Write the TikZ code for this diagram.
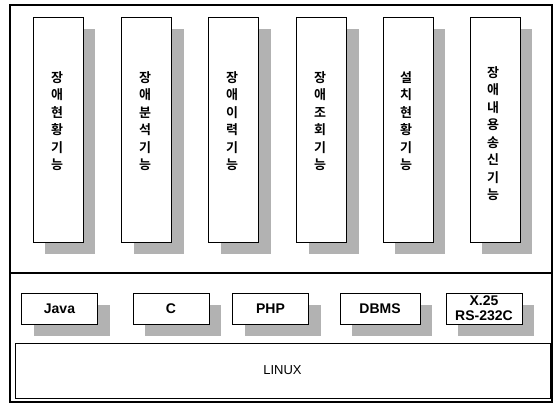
\documentclass[tikz,border=0pt]{standalone}
\usepackage{fontspec}
\setmainfont{Liberation Sans}
\newfontfamily\kr{Noto Sans CJK KR}[BoldFont={Noto Sans CJK KR Bold}]
\usetikzlibrary{shadows}

% stack characters vertically, one per line
\newcommand{\vstack}[1]{\kr\bfseries\fontsize{13}{17.5}\selectfont #1}

\begin{document}
\begin{tikzpicture}[x=1pt,y=-1pt,
  shade box/.style={draw=black, line width=0.9pt, fill=white, inner sep=0pt,
    drop shadow={shadow xshift=12pt, shadow yshift=-12pt, fill=black!30, opacity=1}},
  funcbox/.style={shade box, minimum width=50pt, minimum height=225pt},
  langbox/.style={shade box, minimum width=76pt, minimum height=31pt,
    font=\fontsize{14}{15}\selectfont\bfseries, align=center},
  functext/.style={anchor=north, align=center, inner sep=0pt, font=\vstack{}},
  frame/.style={draw=black, line width=2pt},
]
\useasboundingbox (0,0) rectangle (554,405);

% outer frame and the divider between application and platform layers
\draw[frame] (9.5,4.5) rectangle (551.5,402);
\coordinate (divL) at (9.5,273);
\coordinate (divR) at (551.5,273);
\draw[line width=1.2pt] (divL) -- (divR);

% application function modules
\node[funcbox] (f1) at (58,129.5) {};
\node[funcbox] (f2) at (146.5,129.5) {};
\node[funcbox] (f3) at (233.5,129.5) {};
\node[funcbox] (f4) at (321.5,129.5) {};
\node[funcbox] (f5) at (408,129.5) {};
\node[funcbox] (f6) at (495,129.5) {};

\node[functext] (t1) at (57,71) {장\\애\\현\\황\\기\\능};
\node[functext] (t2) at (145,71) {장\\애\\분\\석\\기\\능};
\node[functext] (t3) at (232,71) {장\\애\\이\\력\\기\\능};
\node[functext] (t4) at (320,71) {장\\애\\조\\회\\기\\능};
\node[functext] (t5) at (406,71) {설\\치\\현\\황\\기\\능};
\node[functext] (t6) at (493,66) {장\\애\\내\\용\\송\\신\\기\\능};

% languages, database and communication interfaces
\node[langbox] (java) at (59.5,308.5) {Java};
\node[langbox] (c) at (171,308.5) {C};
\node[langbox] (php) at (270.5,308.5) {PHP};
\node[langbox, minimum width=80pt] (dbms) at (380,308.5) {DBMS};
\node[langbox] (x25) at (484,308.5) {X.25\\RS-232C};

% operating system layer
\node[draw=black, line width=0.9pt, minimum width=535pt, minimum height=55pt,
  inner sep=0pt, font=\fontsize{13}{14}\selectfont] (linux) at (282.5,370.5) {LINUX};
\end{tikzpicture}
\end{document}
